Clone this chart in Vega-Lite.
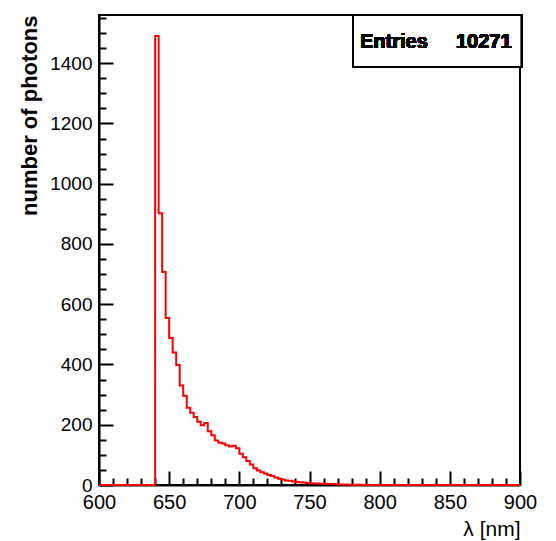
{
  "$schema": "https://vega.github.io/schema/vega-lite/v6.json",
  "width": 421,
  "height": 470,
  "autosize": {"type": "none"},
  "padding": {"left": 99, "top": 15, "right": 36, "bottom": 56},
  "background": "white",
  "config": {
    "view": {"stroke": "black", "strokeWidth": 2},
    "font": "Liberation Sans",
    "axis": {
      "grid": false,
      "domainColor": "black",
      "domainWidth": 2,
      "tickColor": "black",
      "tickWidth": 2,
      "labelColor": "black",
      "labelFont": "Liberation Sans",
      "titleFont": "Liberation Sans",
      "titleColor": "black",
      "labelOverlap": false,
      "labelFlush": false,
      "zindex": 1
    }
  },
  "data": {
    "values": [
      {"wl": 600, "n": 0},
      {"wl": 640, "n": 1490},
      {"wl": 642.5, "n": 902},
      {"wl": 645, "n": 707},
      {"wl": 647.5, "n": 554},
      {"wl": 650, "n": 488},
      {"wl": 652.5, "n": 440},
      {"wl": 655, "n": 398},
      {"wl": 657.5, "n": 330},
      {"wl": 660, "n": 296},
      {"wl": 662.5, "n": 256},
      {"wl": 665, "n": 240},
      {"wl": 667.5, "n": 226},
      {"wl": 670, "n": 210},
      {"wl": 672.5, "n": 198},
      {"wl": 675, "n": 206},
      {"wl": 677.5, "n": 178},
      {"wl": 680, "n": 165},
      {"wl": 682.5, "n": 148},
      {"wl": 685, "n": 140},
      {"wl": 687.5, "n": 138},
      {"wl": 690, "n": 132},
      {"wl": 692.5, "n": 128},
      {"wl": 695, "n": 130},
      {"wl": 697.5, "n": 122},
      {"wl": 700, "n": 104},
      {"wl": 702.5, "n": 92},
      {"wl": 705, "n": 80},
      {"wl": 707.5, "n": 68},
      {"wl": 710, "n": 56},
      {"wl": 712.5, "n": 48},
      {"wl": 715, "n": 42},
      {"wl": 717.5, "n": 38},
      {"wl": 720, "n": 33},
      {"wl": 722.5, "n": 30},
      {"wl": 725, "n": 25},
      {"wl": 727.5, "n": 21},
      {"wl": 730, "n": 18},
      {"wl": 732.5, "n": 15},
      {"wl": 735, "n": 14},
      {"wl": 737.5, "n": 12},
      {"wl": 740, "n": 10},
      {"wl": 742.5, "n": 9},
      {"wl": 745, "n": 8},
      {"wl": 747.5, "n": 7},
      {"wl": 750, "n": 6},
      {"wl": 752.5, "n": 5},
      {"wl": 755, "n": 5},
      {"wl": 757.5, "n": 4},
      {"wl": 760, "n": 4},
      {"wl": 762.5, "n": 3},
      {"wl": 765, "n": 3},
      {"wl": 767.5, "n": 3},
      {"wl": 770, "n": 2},
      {"wl": 772.5, "n": 2},
      {"wl": 775, "n": 2},
      {"wl": 777.5, "n": 1},
      {"wl": 780, "n": 1},
      {"wl": 782.5, "n": 1},
      {"wl": 785, "n": 1},
      {"wl": 787.5, "n": 0},
      {"wl": 790, "n": 1},
      {"wl": 792.5, "n": 0},
      {"wl": 900, "n": 0}
    ]
  },
  "resolve": {"axis": {"x": "independent", "y": "independent"}},
  "layer": [
    {
      "mark": {"type": "point", "opacity": 0},
      "encoding": {
        "x": {
          "field": "wl", "type": "quantitative",
          "scale": {"domain": [600, 900], "nice": false, "zero": false},
          "axis": {
            "orient": "bottom", "title": null, "labels": false, "domain": false,
            "values": [610,620,630,640,660,670,680,690,710,720,730,740,760,770,780,790,810,820,830,840,860,870,880,890],
            "tickSize": -7
          }
        },
        "y": {
          "field": "n", "type": "quantitative",
          "scale": {"domain": [0, 1560], "nice": false},
          "axis": {
            "orient": "left", "title": null, "labels": false, "domain": false,
            "values": [50,100,150,250,300,350,450,500,550,650,700,750,850,900,950,1050,1100,1150,1250,1300,1350,1450,1500,1550],
            "tickSize": -7
          }
        }
      }
    },
    {
      "layer": [
        {
          "mark": {"type": "line", "interpolate": "step-after", "color": "#ff0000", "strokeWidth": 2},
          "encoding": {
            "x": {
              "field": "wl", "type": "quantitative",
              "axis": {
                "orient": "bottom",
                "title": "λ [nm]",
                "titleAnchor": "end",
                "titleAlign": "right",
                "titleFontSize": 21,
                "titleFontWeight": "normal",
                "titlePadding": 6,
                "values": [600, 650, 700, 750, 800, 850, 900],
                "labelFontSize": 20,
                "labelPadding": 21,
                "tickSize": -14
              }
            },
            "y": {
              "field": "n", "type": "quantitative",
              "axis": {
                "orient": "left",
                "title": "number of photons",
                "titleAnchor": "end",
                "titleFontSize": 22,
                "titleFontWeight": "bold",
                "titlePadding": 8,
                "format": "d",
                "values": [0, 200, 400, 600, 800, 1000, 1200, 1400],
                "labelFontSize": 19,
                "labelPadding": 21,
                "tickSize": -14
              }
            }
          }
        },
        {
          "mark": {"type": "rect", "fill": "white", "stroke": "black", "strokeWidth": 2},
          "encoding": {
            "x": {"datum": 781, "type": "quantitative"},
            "x2": {"datum": 901},
            "y": {"datum": 1387, "type": "quantitative"},
            "y2": {"datum": 1560}
          }
        },
        {
          "mark": {"type": "text", "align": "left", "baseline": "alphabetic", "fontSize": 20, "fontWeight": "bold", "font": "Liberation Sans", "color": "black"},
          "encoding": {
            "x": {"datum": 786, "type": "quantitative"},
            "y": {"datum": 1450, "type": "quantitative"},
            "text": {"value": "Entries"}
          }
        },
        {
          "mark": {"type": "text", "align": "right", "baseline": "alphabetic", "fontSize": 20, "fontWeight": "bold", "font": "Liberation Sans", "color": "black"},
          "encoding": {
            "x": {"datum": 894, "type": "quantitative"},
            "y": {"datum": 1450, "type": "quantitative"},
            "text": {"value": "10271"}
          }
        }
      ]
    }
  ]
}
